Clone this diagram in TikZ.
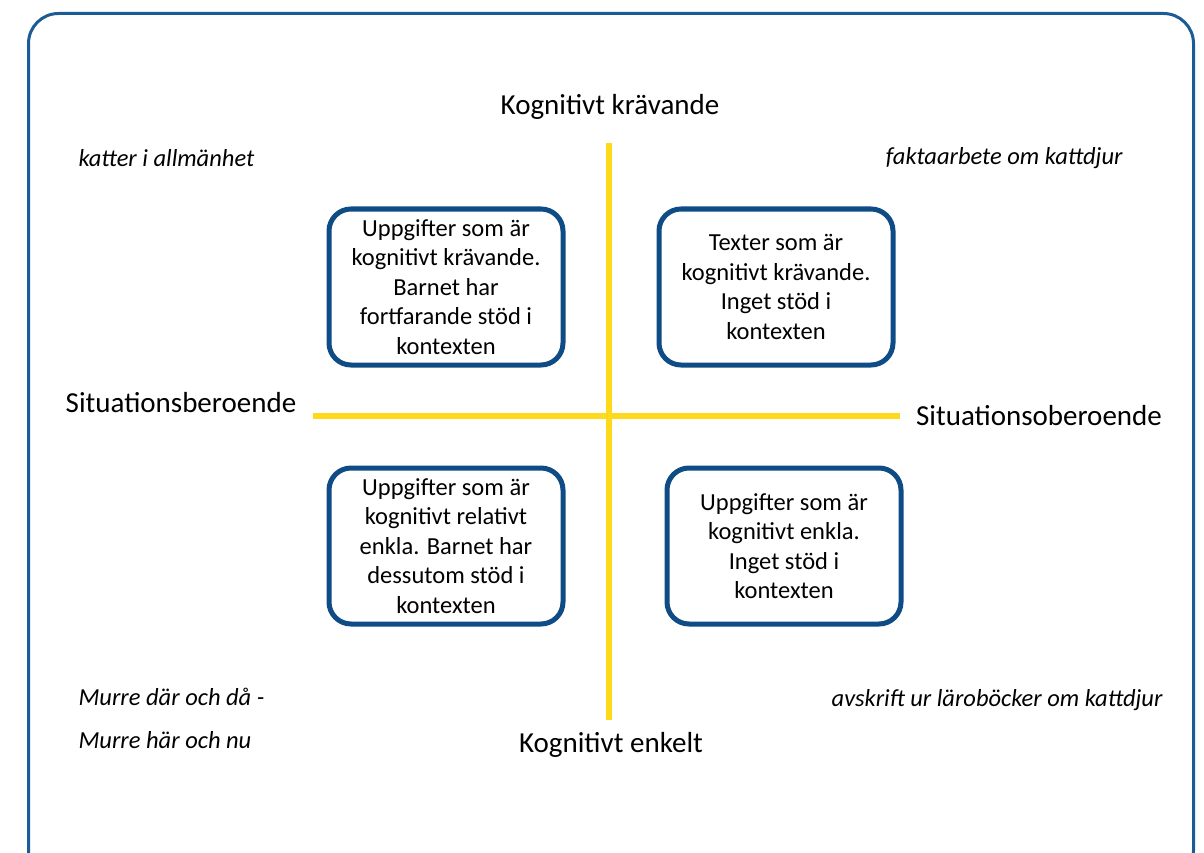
\documentclass[tikz,border=0pt]{standalone}
\usepackage{fontspec}
\setmainfont{Carlito}
\definecolor{frameblue}{HTML}{1B5C96}
\definecolor{boxblue}{HTML}{0F4C85}
\definecolor{axisyellow}{HTML}{FFD91C}
\begin{document}
\begin{tikzpicture}[x=1pt, y=-1pt,
  quad/.style={draw=boxblue, line width=5pt, rounded corners=22pt, align=center,
    minimum width=234pt, minimum height=156pt, inner sep=0pt,
    font=\fontsize{24.5}{29.5}\selectfont},
  axislabel/.style={font=\fontsize{29}{32}\selectfont},
  example/.style={font=\fontsize{24.5}{28}\selectfont\itshape},
  axis/.style={draw=axisyellow, line width=6pt}]
  \useasboundingbox (0,0) rectangle (1204,853);
  \draw[frameblue, line width=3pt, rounded corners=30pt] (28.5,13.5) rectangle (1193.5,880);
  % the two axes
  \coordinate (top) at (609,143);
  \coordinate (bottom) at (609,720);
  \coordinate (left) at (313,416);
  \coordinate (right) at (900,416);
  \draw[axis] (top) -- (bottom);
  \draw[axis] (left) -- (right);
  \node[axislabel] (demanding) at (610,107) {Kognitivt krävande};
  \node[axislabel] (easy) at (611,745) {Kognitivt enkelt};
  \node[axislabel] (embedded) at (181,403) {Situationsberoende};
  \node[axislabel] (reduced) at (1039,416) {Situationsoberoende};
  % examples in the corners
  \node[example, anchor=west] (cats) at (75,158) {katter i allmänhet};
  \node[example, anchor=east] (facts) at (1126,158) {faktaarbete om kattdjur};
  \node[example, anchor=west] (murre) at (75,697) {Murre där och då -};
  \node[example, anchor=west] (murrenow) at (75,740) {Murre här och nu};
  \node[example, anchor=east] (copy) at (1166,700) {avskrift ur läroböcker om kattdjur};
  % the four quadrants
  \node[quad] (tl) at (446,287) {Uppgifter som är\\kognitivt krävande.\\Barnet har\\fortfarande stöd i\\kontexten};
  \node[quad] (tr) at (776,287) {Texter som är\\kognitivt krävande.\\Inget stöd i\\kontexten};
  \node[quad] (bl) at (446,546) {Uppgifter som är\\kognitivt relativt\\enkla. Barnet har\\dessutom stöd i\\kontexten};
  \node[quad] (br) at (784,546) {Uppgifter som är\\kognitivt enkla.\\Inget stöd i\\kontexten};
\end{tikzpicture}
\end{document}
